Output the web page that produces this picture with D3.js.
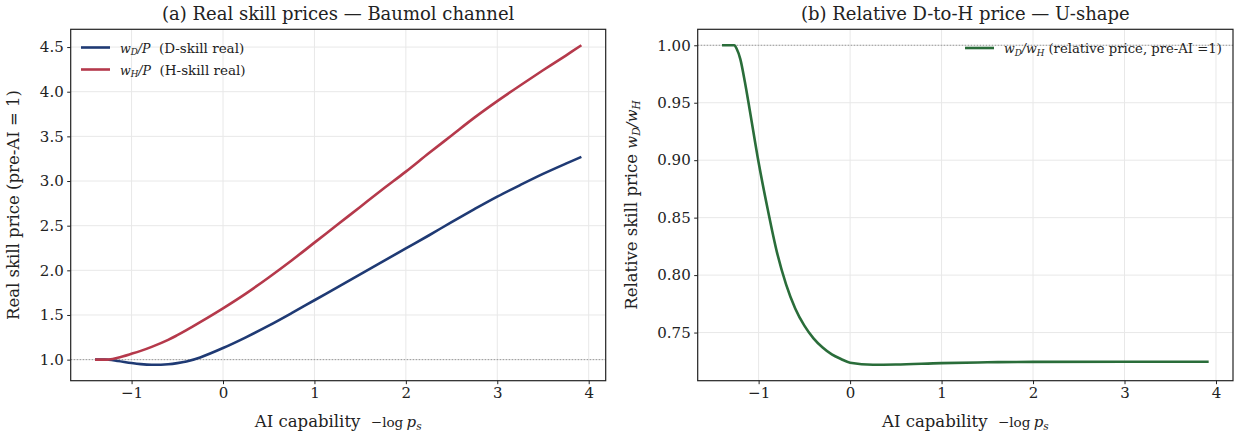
<!DOCTYPE html>
<html>
<head>
<meta charset="UTF-8">
<style>
  body { margin: 0; background: white; }
  svg { display: block; font-family: "DejaVu Serif", serif; }
  svg text { white-space: pre; }
  .grid line { stroke: #e8e8e8; stroke-width: 1; }
  .axis path, .axis line { stroke: #222; }
  .axis text { font-size: 15px; fill: #222; font-family: "DejaVu Serif", serif; }
</style>
<script src="https://cdn.jsdelivr.net/npm/d3@7"></script>
</head>
<body>
<svg id="Chart"></svg>
<script>
  // AI capability (-log p_s) samples, panel (a)
  let capA = [-1.4, -1.3, -1.25, -1.15, -1.0, -0.9, -0.78, -0.6, -0.5, -0.4, -0.25, 0, 0.25, 0.5, 0.75,
              1, 1.25, 1.5, 1.75, 2, 2.25, 2.5, 2.75, 3, 3.25, 3.5, 3.75, 3.92];
  let realD = [1.0, 1.0, 0.998, 0.985, 0.962, 0.95, 0.943, 0.949, 0.961, 0.98, 1.025, 1.13, 1.25, 1.38, 1.52,
               1.665, 1.81, 1.955, 2.10, 2.245, 2.39, 2.54, 2.685, 2.825, 2.955, 3.08, 3.195, 3.27];
  let realH = [1.0, 1.0, 1.002, 1.022, 1.066, 1.098, 1.143, 1.222, 1.274, 1.33, 1.42, 1.575, 1.74, 1.92, 2.11,
               2.31, 2.51, 2.71, 2.91, 3.105, 3.31, 3.51, 3.71, 3.895, 4.07, 4.24, 4.405, 4.52];

  // panel (b): relative D-to-H price
  let capB = [-1.4, -1.3, -1.265, -1.24, -1.2, -1.15, -1.1, -1.0, -0.9, -0.8, -0.7, -0.6, -0.5,
              -0.4, -0.3, -0.2, -0.1, 0, 0.25, 0.5, 1, 1.5, 2, 3, 3.92];
  let relDH = [1.0, 1.0, 1.0, 0.997, 0.988, 0.968, 0.945, 0.898, 0.857, 0.82, 0.792, 0.771, 0.756,
               0.745, 0.737, 0.731, 0.727, 0.7238, 0.722, 0.7222, 0.7234, 0.7241, 0.7245, 0.7246, 0.7246];

  let xTicks = [-1, 0, 1, 2, 3, 4];
  let yTicksA = [1.0, 1.5, 2.0, 2.5, 3.0, 3.5, 4.0, 4.5];
  let yTicksB = [0.75, 0.80, 0.85, 0.90, 0.95, 1.00];

  let colors = {D: '#1f3a74', H: '#b5394b', rel: '#2a6d3a'};

  function getConfig() {
    let width = 1235, height = 436;
    let top = 29.3, bottom = 380.7;
    let container = d3.select('#Chart').attr('width', width).attr('height', height);
    return {width, height, top, bottom, container};
  }

  // matplotlib style: data range padded by 5% on each side
  function padded(values) {
    let [lo, hi] = d3.extent(values);
    let m = (hi - lo) * 0.05;
    return [lo - m, hi + m];
  }

  function mathText(sel, parts, size) {
    parts.forEach(p => {
      let t = sel.append('tspan').text(p.t);
      if (p.i) t.attr('font-style', 'italic');
      if (p.sub) t.attr('font-size', size * 0.7).attr('dy', size * 0.22);
      if (p.up) t.attr('dy', -size * 0.22);
      if (p.fs) t.attr('font-size', p.fs);
    });
  }

  function drawPanel(config, opts) {
    let {container, top, bottom} = config;
    let xScale = d3.scaleLinear().domain(padded(opts.xs)).range([opts.left, opts.right]);
    let yScale = d3.scaleLinear().domain(padded(opts.ys)).range([bottom, top]);

    // grid
    let grid = container.append('g').attr('class', 'grid');
    grid.selectAll('.gx').data(xTicks).enter().append('line')
      .attr('x1', d => xScale(d)).attr('x2', d => xScale(d))
      .attr('y1', top).attr('y2', bottom);
    grid.selectAll('.gy').data(opts.yTicks).enter().append('line')
      .attr('x1', opts.left).attr('x2', opts.right)
      .attr('y1', d => yScale(d)).attr('y2', d => yScale(d));

    // pre-AI reference line
    container.append('line')
      .attr('x1', opts.left).attr('x2', opts.right)
      .attr('y1', yScale(1)).attr('y2', yScale(1))
      .attr('stroke', '#999').attr('stroke-width', 1).attr('stroke-dasharray', '1.5,1.5');

    let line = d3.line().curve(opts.curve)
      .x(d => xScale(d[0])).y(d => yScale(d[1]));
    opts.series.forEach(s => {
      container.append('path')
        .datum(s.x.map((x, i) => [x, s.y[i]]))
        .attr('d', line)
        .attr('fill', 'none')
        .attr('stroke', s.color)
        .attr('stroke-width', 2.6);
    });

    // axes
    let axisX = d3.axisBottom(xScale).tickValues(xTicks).tickSize(3.5).tickPadding(3.5)
      .tickFormat(d => d < 0 ? '\u2212' + Math.abs(d) : d);
    container.append('g').attr('class', 'axis')
      .attr('transform', `translate(0, ${bottom})`).call(axisX)
      .select('.domain').remove();
    let axisY = d3.axisLeft(yScale).tickValues(opts.yTicks).tickSize(3.5).tickPadding(3.5)
      .tickFormat(opts.yFormat);
    container.append('g').attr('class', 'axis')
      .attr('transform', `translate(${opts.left}, 0)`).call(axisY)
      .select('.domain').remove();

    container.append('rect')
      .attr('x', opts.left).attr('y', top)
      .attr('width', opts.right - opts.left).attr('height', bottom - top)
      .attr('fill', 'none').attr('stroke', '#222').attr('stroke-width', 1.2);

    let cx = (opts.left + opts.right) / 2;
    container.append('text')
      .attr('x', cx).attr('y', 20).attr('text-anchor', 'middle')
      .attr('font-size', 18).attr('fill', '#222')
      .text(opts.title);

    let xl = container.append('text')
      .attr('x', cx).attr('y', 427).attr('text-anchor', 'middle')
      .attr('font-size', 16.5).attr('fill', '#222');
    mathText(xl, [{t: 'AI capability  '}, {t: '\u2212log', fs: 13.5}, {t: '\u2009'},
                  {t: 'p', i: true, fs: 15}, {t: 's', i: true, sub: true}], 15);

    let yl = container.append('text')
      .attr('transform', `translate(${opts.yLabelX}, ${(top + bottom) / 2}) rotate(-90)`)
      .attr('text-anchor', 'middle').attr('font-size', 16.5).attr('fill', '#222');
    mathText(yl, opts.yLabel, 15);

    // legend
    let lg = container.append('g');
    opts.legend.forEach((item, i) => {
      let y = opts.legendY + i * 22;
      lg.append('line')
        .attr('x1', item.x).attr('x2', item.x + 29)
        .attr('y1', y).attr('y2', y)
        .attr('stroke', item.color).attr('stroke-width', 2.6);
      let t = lg.append('text')
        .attr('x', item.x + 39).attr('y', y + 5)
        .attr('font-size', item.fs).attr('fill', '#222');
      mathText(t, item.parts, 12.5);
    });
  }

  function showData() {
    let config = getConfig();
    config.container.append('rect')
      .attr('width', config.width).attr('height', config.height).attr('fill', 'white');

    drawPanel(config, {
      left: 70.7, right: 605.7,
      xs: capA, ys: realD.concat(realH),
      yTicks: yTicksA, yFormat: d3.format('.1f'),
      curve: d3.curveCatmullRom.alpha(0.5),
      title: '(a) Real skill prices \u2014 Baumol channel',
      yLabelX: 19,
      yLabel: [{t: 'Real skill price (pre-AI = 1)'}],
      series: [
        {x: capA, y: realD, color: colors.D},
        {x: capA, y: realH, color: colors.H}
      ],
      legendY: 47.5,
      legend: [
        {x: 81, fs: 13.5, color: colors.D, parts: [{t: 'w', i: true, fs: 12.5}, {t: 'D', i: true, sub: true},
          {t: '/P', i: true, up: true, fs: 12.5}, {t: '  (D-skill real)'}]},
        {x: 81, fs: 13.5, color: colors.H, parts: [{t: 'w', i: true, fs: 12.5}, {t: 'H', i: true, sub: true},
          {t: '/P', i: true, up: true, fs: 12.5}, {t: '  (H-skill real)'}]}
      ]
    });

    drawPanel(config, {
      left: 697.7, right: 1233,
      xs: capB, ys: relDH,
      yTicks: yTicksB, yFormat: d3.format('.2f'),
      curve: d3.curveMonotoneX,
      title: '(b) Relative D-to-H price \u2014 U-shape',
      yLabelX: 637,
      yLabel: [{t: 'Relative skill price '}, {t: 'w', i: true, fs: 15}, {t: 'D', i: true, sub: true},
               {t: '/w', i: true, up: true, fs: 15}, {t: 'H', i: true, sub: true}],
      series: [{x: capB, y: relDH, color: colors.rel}],
      legendY: 48,
      legend: [
        {x: 965, fs: 13.2, color: colors.rel, parts: [{t: 'w', i: true, fs: 12.5}, {t: 'D', i: true, sub: true},
          {t: '/w', i: true, up: true, fs: 12.5}, {t: 'H', i: true, sub: true},
          {t: ' (relative price, pre-AI =1)', up: true}]}
      ]
    });
  }

  showData();
</script>
</body>
</html>
